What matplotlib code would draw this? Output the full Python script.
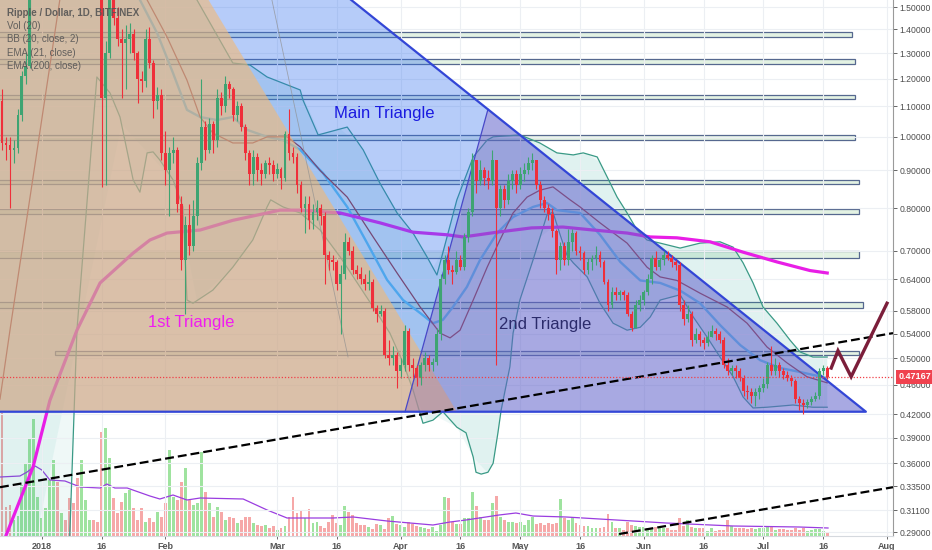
import numpy as np
import matplotlib
matplotlib.use("Agg")
import matplotlib.pyplot as plt
from matplotlib.patches import Polygon, Rectangle
from matplotlib.transforms import blended_transform_factory

plt.rcParams['font.family'] = ['Liberation Sans', 'DejaVu Sans']

# x values are days counted from 2018-01-01; first candle is 2017-12-22
first_day = -10
first_open = 1.12

closes = [
    0.98, 0.975, 0.96, 0.965, 1.07, 1.21, 1.25, 1.75, 2.00, 2.10,
    2.30, 2.60, 3.00, 3.20, 2.90, 3.00, 2.80, 2.30, 2.05, 1.95,
    1.95, 2.05, 2.10, 1.85, 1.75, 1.13, 1.30, 1.58, 1.45, 1.36,
    1.34, 1.36, 1.38, 1.30, 1.20, 1.19, 1.36, 1.26, 1.12, 1.14,
    0.95, 0.90, 0.95, 0.96, 0.81, 0.68, 0.76, 0.71, 0.78, 0.92,
    1.03, 0.96, 1.04, 0.99, 1.13, 1.10, 1.18, 1.16, 1.07, 1.10,
    1.03, 0.95, 0.89, 0.94, 0.90, 0.89, 0.92, 0.915, 0.89, 0.905,
    0.88, 1.01, 0.95, 0.94, 0.86, 0.80, 0.81, 0.77, 0.79, 0.80,
    0.78, 0.69, 0.68, 0.675, 0.63, 0.65, 0.72, 0.70, 0.66, 0.65,
    0.64, 0.63, 0.635, 0.585, 0.575, 0.58, 0.505, 0.50, 0.505, 0.48,
    0.49, 0.545, 0.49, 0.485, 0.47, 0.49, 0.50, 0.49, 0.495, 0.54,
    0.64, 0.68, 0.66, 0.655, 0.68, 0.665, 0.73, 0.79, 0.93, 0.87,
    0.90, 0.88, 0.87, 0.93, 0.80, 0.85, 0.82, 0.87, 0.89, 0.86,
    0.89, 0.90, 0.92, 0.93, 0.86, 0.82, 0.80, 0.785, 0.745, 0.68,
    0.71, 0.68, 0.72, 0.74, 0.70, 0.695, 0.66, 0.675, 0.685, 0.69,
    0.675, 0.635, 0.59, 0.615, 0.61, 0.615, 0.61, 0.575, 0.55, 0.59,
    0.60, 0.615, 0.64, 0.685, 0.665, 0.68, 0.69, 0.685, 0.675, 0.67,
    0.59, 0.565, 0.575, 0.53, 0.54, 0.53, 0.525, 0.535, 0.545, 0.54,
    0.53, 0.49, 0.48, 0.485, 0.48, 0.47, 0.452, 0.45, 0.445, 0.45,
    0.455, 0.462, 0.49, 0.48, 0.49, 0.48, 0.475, 0.47, 0.465, 0.44,
    0.435, 0.432, 0.436, 0.44, 0.445, 0.48, 0.485, 0.47167,
]
highs = [
    1.16, 1.00, 1.00, 0.99, 1.09, 1.23, 1.30, 1.85, 2.20, 2.30,
    2.40, 2.70, 3.20, 3.40, 3.30, 3.20, 3.10, 2.90, 2.40, 2.10,
    2.10, 2.20, 2.20, 2.15, 1.90, 1.80, 1.35, 1.65, 1.70, 1.50,
    1.40, 1.42, 1.43, 1.40, 1.31, 1.23, 1.40, 1.41, 1.27, 1.17,
    1.16, 1.02, 0.97, 1.00, 0.97, 0.83, 0.78, 0.81, 0.82, 0.94,
    1.20, 1.05, 1.06, 1.05, 1.16, 1.15, 1.21, 1.19, 1.17, 1.12,
    1.11, 1.04, 0.96, 0.96, 0.95, 0.92, 0.93, 0.94, 0.93, 0.92,
    0.91, 1.02, 1.09, 0.97, 0.95, 0.87, 0.83, 0.83, 0.81, 0.82,
    0.81, 0.79, 0.70, 0.69, 0.68, 0.67, 0.74, 0.73, 0.71, 0.67,
    0.665, 0.65, 0.66, 0.64, 0.59, 0.59, 0.585, 0.53, 0.52, 0.51,
    0.50, 0.555, 0.55, 0.50, 0.49, 0.495, 0.51, 0.505, 0.50, 0.55,
    0.65, 0.69, 0.71, 0.67, 0.70, 0.69, 0.74, 0.80, 0.95, 0.93,
    0.93, 0.91, 0.90, 0.96, 0.93, 0.86, 0.86, 0.89, 0.90, 0.90,
    0.91, 0.92, 0.94, 0.95, 0.93, 0.87, 0.83, 0.81, 0.80, 0.75,
    0.72, 0.72, 0.75, 0.75, 0.745, 0.71, 0.70, 0.685, 0.69, 0.71,
    0.70, 0.68, 0.64, 0.625, 0.625, 0.62, 0.62, 0.615, 0.58, 0.60,
    0.61, 0.62, 0.65, 0.69, 0.70, 0.685, 0.70, 0.70, 0.69, 0.68,
    0.675, 0.60, 0.59, 0.58, 0.55, 0.545, 0.535, 0.545, 0.555, 0.55,
    0.545, 0.535, 0.50, 0.49, 0.49, 0.485, 0.475, 0.46, 0.455, 0.455,
    0.46, 0.47, 0.495, 0.52, 0.50, 0.495, 0.485, 0.48, 0.475, 0.468,
    0.445, 0.44, 0.44, 0.445, 0.45, 0.485, 0.49, 0.488,
]
lows = [
    0.96, 0.93, 0.80, 0.92, 0.95, 1.05, 1.18, 1.24, 1.70, 1.90,
    2.00, 2.20, 2.50, 2.90, 2.60, 2.70, 2.60, 2.20, 1.90, 1.80,
    1.75, 1.90, 1.90, 1.75, 1.60, 0.855, 0.86, 1.28, 1.42, 1.33,
    1.13, 1.16, 1.30, 1.27, 1.11, 1.15, 1.17, 1.24, 1.06, 1.09,
    0.93, 0.86, 0.78, 0.92, 0.79, 0.66, 0.575, 0.69, 0.70, 0.76,
    0.90, 0.93, 0.95, 0.95, 0.97, 1.07, 1.08, 1.13, 1.05, 1.05,
    1.02, 0.93, 0.86, 0.86, 0.87, 0.86, 0.88, 0.89, 0.87, 0.88,
    0.85, 0.87, 0.93, 0.92, 0.84, 0.79, 0.74, 0.75, 0.75, 0.77,
    0.76, 0.63, 0.66, 0.66, 0.62, 0.54, 0.64, 0.69, 0.65, 0.64,
    0.63, 0.62, 0.62, 0.58, 0.56, 0.57, 0.50, 0.49, 0.49, 0.455,
    0.47, 0.48, 0.48, 0.47, 0.458, 0.46, 0.48, 0.48, 0.48, 0.49,
    0.53, 0.63, 0.65, 0.63, 0.65, 0.66, 0.66, 0.72, 0.78, 0.84,
    0.86, 0.86, 0.85, 0.86, 0.49, 0.78, 0.80, 0.81, 0.85, 0.84,
    0.85, 0.87, 0.89, 0.90, 0.85, 0.80, 0.79, 0.77, 0.73, 0.65,
    0.66, 0.67, 0.67, 0.70, 0.69, 0.68, 0.65, 0.65, 0.66, 0.67,
    0.665, 0.63, 0.58, 0.585, 0.60, 0.60, 0.60, 0.57, 0.545, 0.55,
    0.58, 0.59, 0.61, 0.63, 0.66, 0.66, 0.67, 0.68, 0.665, 0.66,
    0.58, 0.555, 0.56, 0.52, 0.525, 0.52, 0.515, 0.52, 0.535, 0.53,
    0.525, 0.485, 0.475, 0.475, 0.47, 0.465, 0.445, 0.44, 0.435, 0.43,
    0.44, 0.45, 0.455, 0.475, 0.475, 0.472, 0.468, 0.465, 0.458, 0.435,
    0.425, 0.42, 0.428, 0.432, 0.438, 0.44, 0.475, 0.468,
]
volumes = [
    123, 29, 31, 16, 20, 51, 73, 98, 117, 39,
    18, 28, 56, 76, 54, 23, 16, 38, 33, 58,
    76, 36, 16, 16, 14, 104, 108, 78, 38, 23,
    34, 43, 46, 28, 16, 28, 14, 18, 14, 24,
    19, 33, 86, 39, 36, 54, 68, 36, 31, 33,
    84, 44, 33, 19, 29, 24, 16, 19, 18, 13,
    16, 19, 19, 13, 11, 10, 11, 8, 10, 6,
    8, 10, 19, 39, 23, 26, 18, 27, 13, 14,
    10, 8, 14, 21, 13, 11, 30, 24, 21, 13,
    11, 11, 9, 7, 12, 11, 7, 18, 20, 12,
    11, 9, 14, 12, 10, 9, 8, 7, 9, 5,
    11, 39, 38, 14, 12, 12, 18, 18, 44, 30,
    19, 16, 16, 33, 40, 19, 16, 14, 14, 13,
    14, 11, 16, 19, 12, 13, 11, 13, 12, 13,
    37, 18, 16, 19, 13, 11, 10, 10, 8, 8,
    8, 9, 22, 14, 8, 8, 6, 14, 11, 10,
    9, 9, 8, 8, 9, 8, 8, 8, 6, 6,
    18, 10, 16, 9, 8, 8, 8, 5, 8, 5,
    6, 6, 16, 10, 8, 8, 8, 7, 8, 7,
    8, 8, 9, 9, 6, 7, 7, 6, 6, 8,
    6, 8, 5, 6, 7, 7, 5, 3,
]

# Vol (20) moving average
vol_ma_days = [-10.5, -5.5, -3.7, -1.7, 0, 2, 5.8, 9.6, 14.6, 16.3, 18.3, 21.4, 27.1, 29.6,
               32.9, 36.4, 39.7, 50.5, 56.5, 61.5, 73.0, 78.1, 86.6, 98.1, 102.4, 106.4,
               114.7, 118.9, 123.2, 131.5, 148.3, 156.6, 173.4, 189.9, 197.2]
vol_ma = [59, 60, 64, 70, 66, 56, 55, 49, 48, 52, 48, 48, 40, 37,
          41, 36, 38, 37, 26, 18, 18, 19, 15, 11, 14, 16,
          21, 23, 20, 19, 15, 13, 10, 9, 8]

# Bollinger bands (20, close, 2)
bb_up_days = [-12, 20, 33, 38.9, 47.9, 52.2, 56.5, 64.8, 65.5, 69.3, 76.6, 80.6, 84.8, 89.1,
              93.1, 96.6, 99.1, 104.1, 108.2, 111.7, 113.2, 119.9, 124.9, 129.2, 133.3,
              135.8, 139.3, 141.8, 144.3, 146.8, 149.3, 151.8, 155.1, 160.1, 165.1, 170.1,
              173.4, 175.9, 178.4, 180.9, 184.4, 187.7, 190.2, 193.4, 197.0]
bb_up = [2.0, 3.6, 1.75, 1.535, 1.260, 1.252, 1.206, 1.158, 1.122, 1.006, 1.031, 0.960,
         0.865, 0.788, 0.740, 0.687, 0.649, 0.821, 0.939, 0.990, 1.000, 1.006, 0.981,
         0.951, 0.945, 0.951, 0.939, 0.882, 0.828, 0.788, 0.747, 0.724, 0.717, 0.706,
         0.717, 0.720, 0.708, 0.674, 0.633, 0.587, 0.558, 0.529, 0.510, 0.502, 0.502]
bb_low_days = [-12, 6.0, 7.0, 8.8, 13.8, 17.1, 19.6, 22.9, 24.6, 26.4, 27.9, 29.6, 32.9,
               35.4, 36.4, 37.9, 42.9, 47.9, 52.9, 56.5, 57.4, 60.5, 64.8, 69.8, 74.8,
               79.8, 83.1, 87.3, 90.6, 93.1, 95.6, 98.1, 100.6, 104.1, 106.4, 108.2,
               108.9, 110.2, 111.9, 113.2, 114.4, 115.2, 117.4, 118.2, 119.9, 123.2,
               126.7, 128.2, 130.0, 131.7, 133.3, 136.8, 140.0, 143.3, 146.8, 150.1,
               152.6, 155.1, 160.1, 163.4, 166.9, 170.1, 173.4, 175.9, 178.4, 181.9,
               188.4, 193.4, 197.0]
bb_low = [0.15, 0.20, 0.287, 0.546, 1.206, 1.147, 1.064, 0.874, 0.841, 0.951, 0.954, 0.930,
          0.874, 0.803, 0.600, 0.594, 0.619, 0.665, 0.724, 0.803, 0.821, 0.803, 0.788,
          0.747, 0.687, 0.625, 0.587, 0.541, 0.493, 0.453, 0.408, 0.412, 0.423, 0.403,
          0.396, 0.367, 0.350, 0.348, 0.350, 0.360, 0.396, 0.425, 0.487, 0.541, 0.600,
          0.680, 0.783, 0.790, 0.736, 0.691, 0.674, 0.645, 0.594, 0.558, 0.546, 0.551,
          0.569, 0.600, 0.610, 0.569, 0.534, 0.502, 0.472, 0.443, 0.428, 0.429, 0.432,
          0.429, 0.429]
bb_mid_days = [15, 24.6, 28.9, 32.9, 36.4, 39.7, 43.9, 47.9, 51.5, 56.5, 60.5, 64.8, 70.5,
               76.6, 81.6, 86.6, 90.6, 94.9, 98.1, 100.6, 103.1, 106.6, 109.9, 114.2,
               118.2, 123.2, 126.7, 129.2, 135.0, 140.0, 145.1, 150.1, 155.1, 160.1,
               165.1, 170.1, 175.2, 180.2, 185.2, 190.2, 197.0]
bb_mid = [2.4, 1.535, 1.384, 1.221, 1.088, 1.064, 1.054, 1.064, 1.022, 1.000, 0.990,
          0.960, 0.893, 0.803, 0.717, 0.639, 0.600, 0.576, 0.558, 0.564, 0.587, 0.625,
          0.680, 0.740, 0.778, 0.803, 0.813, 0.795, 0.788, 0.736, 0.676, 0.638, 0.633,
          0.618, 0.594, 0.555, 0.521, 0.497, 0.485, 0.479, 0.470]

# EMA (21, close)
ema21_days = [-10.5, -8.0, 4.5, 15, 26.4, 31.4, 36.4, 39.7, 42.9, 47.9, 52.9, 56.5, 61.5,
              64.8, 69.8, 76.6, 83.1, 89.1, 94.9, 99.9, 102.4, 104.9, 108.2, 111.7, 114.9,
              118.2, 121.7, 124.9, 128.2, 132.5, 135.0, 140.0, 146.8, 151.8, 155.1, 159.3,
              165.1, 171.9, 176.9, 181.9, 186.9, 191.9, 197.0]
ema21 = [0.44, 0.546, 1.535, 2.2, 1.535, 1.367, 1.194, 1.064, 1.012, 0.981, 0.981, 1.000,
         1.000, 0.969, 0.900, 0.828, 0.731, 0.653, 0.587, 0.541, 0.533, 0.546, 0.600,
         0.665, 0.724, 0.788, 0.828, 0.846, 0.855, 0.821, 0.803, 0.764, 0.717, 0.665,
         0.645, 0.638, 0.613, 0.587, 0.558, 0.518, 0.493, 0.472, 0.463]

# EMA (200, close)
ema200_days = [-12, -8.8, -2.2, 2.0, 8.8, 14.6, 22.9, 27.1, 31.4, 39.7, 47.9, 56.5, 59.7,
               64.8, 74.8, 84.8, 93.1, 101.6, 105.7, 114.2, 122.8, 130.7, 138.3, 146.8,
               152.6, 159.3, 167.6, 175.9, 184.4, 192.7, 197.0]
ema200 = [0.26, 0.289, 0.356, 0.438, 0.546, 0.633, 0.695, 0.724, 0.740, 0.747, 0.770,
          0.788, 0.795, 0.795, 0.788, 0.764, 0.742, 0.736, 0.731, 0.742, 0.752, 0.754,
          0.747, 0.740, 0.731, 0.729, 0.720, 0.697, 0.676, 0.658, 0.653]

# horizontal zones drawn on the chart
zone_bottom = [1.367, 1.258, 1.124, 0.989, 0.862, 0.785, 0.685, 0.586, 0.505]
zone_top = [1.389, 1.277, 1.140, 1.005, 0.873, 0.797, 0.699, 0.597, 0.511]
zone_start = [-12, -12, -12, -12, -12, -12, -12, -12, 3.3]
zone_end = [203.2, 204.0, 204.0, 204.0, 205.0, 205.0, 205.0, 205.9, 205.0]

# triangles (day, price)
main_tri_days = [-60, 4.0, 206.7]
main_tri_prices = [0.423, 3.2, 0.423]
first_tri_days = [-60, 6.3, 104.1]
first_tri_prices = [0.423, 3.2, 0.423]
second_tri_days = [91.1, 111.9, 206.7]
second_tri_prices = [0.423, 1.09, 0.423]
guide_days = [57.7, 76.8]
guide_prices = [1.535, 0.502]

trend_up_days = [-10.5, 213.5]
trend_up = [0.334, 0.541]
trend_low_days = [144.8, 213.5]
trend_low = [0.2885, 0.334]
proj_days = [198.0, 199.7, 203.0, 212.0]
proj_prices = [0.485, 0.512, 0.472, 0.594]
last_price = 0.47167

price_ticks = [1.5, 1.4, 1.3, 1.2, 1.1, 1.0, 0.9, 0.8, 0.7, 0.64, 0.58, 0.54, 0.5,
               0.46, 0.42, 0.39, 0.36, 0.335, 0.311, 0.29]
date_ticks = [0, 15, 31, 59, 74, 90, 105, 120, 135, 151, 166, 181, 196, 212]
date_labels = ['2018', '16', 'Feb', 'Mar', '16', 'Apr', '16', 'May', '16', 'Jun',
               '16', 'Jul', '16', 'Aug']

assert len(closes) == len(highs) == len(lows) == len(volumes)

days = np.arange(first_day, first_day + len(closes))
c = np.array(closes)
o = np.concatenate([[first_open], c[:-1]])  # 24h market: open = previous close
up = c >= o

fig = plt.figure(figsize=(9.32, 5.5), dpi=100)
ax = fig.add_axes([0, 14 / 550, 893 / 932, 536 / 550])
ax_v = ax.twinx()
ax.set_zorder(ax_v.get_zorder() + 1)
ax.patch.set_visible(False)

# volume pane
ax_v.bar(days, volumes, width=0.72, color=np.where(up, '#9fe39f', '#f6a8a8'), zorder=1)
ax_v.plot(vol_ma_days, vol_ma, color='#9a3de0', lw=0.9, zorder=2)
ax_v.set_ylim(0, 536)
ax_v.set_yticks([])
for s in ax_v.spines.values():
    s.set_visible(False)

ax.set_yscale('log')
ax.set_xlim(-10.5, 213.5)
ax.set_ylim(0.2867, 1.5346)

# zones
for b, t, s, e in zip(zone_bottom, zone_top, zone_start, zone_end):
    ax.add_patch(Rectangle((s, b), e - s, t - b, facecolor='#e3f2e3', edgecolor='#56688f',
                           lw=0.9, zorder=1))

# indicators
ax.fill_between(bb_up_days, np.interp(bb_up_days, bb_low_days, bb_low), bb_up,
                color='#26a69a', alpha=0.07, lw=0, zorder=1.5)
ax.fill_between(bb_low_days, bb_low, np.interp(bb_low_days, bb_up_days, bb_up),
                color='#26a69a', alpha=0.07, lw=0, zorder=1.5)
ax.plot(bb_up_days, bb_up, color='#3a9a86', lw=0.9, zorder=2)
ax.plot(bb_low_days, bb_low, color='#3a9a86', lw=0.9, zorder=2)
ax.plot(bb_mid_days, bb_mid, color='#5fc4ec', lw=1.7, zorder=2)
ax.plot(ema21_days, ema21, color='#9c3535', lw=0.9, zorder=2)
ax.plot(ema200_days, ema200, color='#e81ee6', lw=2.3, zorder=2)

# triangles
ax.add_patch(Polygon(list(zip(main_tri_days, main_tri_prices)), closed=True,
                     facecolor='#2f6ef0', alpha=0.35, lw=0, zorder=3))
ax.add_patch(Polygon(list(zip(first_tri_days, first_tri_prices)), closed=True,
                     facecolor='#f5b870', alpha=0.58, lw=0, zorder=3.1))
ax.add_patch(Polygon(list(zip(second_tri_days, second_tri_prices)), closed=True,
                     facecolor='#8a5cb0', alpha=0.31, edgecolor='none', zorder=3.2))
ax.plot(second_tri_days[:2], second_tri_prices[:2], color='#4848c8', lw=0.9, zorder=3.3)
ax.plot(main_tri_days[1:] + [main_tri_days[0]], main_tri_prices[1:] + [main_tri_prices[0]],
        color='#3346d6', lw=1.6, zorder=3.4)
ax.plot(guide_days, guide_prices, color='#8f8f8f', lw=0.6, alpha=0.7, zorder=3.3)

# candles
col = np.where(up, '#3ea472', '#ef2f3a')
ax.vlines(days, lows, highs, colors=col, lw=0.8, zorder=5)
ax.bar(days, np.maximum(np.abs(c - o), 0.002), bottom=np.minimum(o, c), width=0.72,
       color=col, lw=0, zorder=5.1)

# drawings
ax.plot(trend_up_days, trend_up, color='black', lw=1.6, ls=(0, (4, 1.8)), zorder=6)
ax.plot(trend_low_days, trend_low, color='black', lw=1.6, ls=(0, (4, 1.8)), zorder=6)
ax.axhline(last_price, color='#f04048', lw=0.9, ls=(0, (1, 1.5)), zorder=6)
ax.plot(proj_days, proj_prices, color='#7b1e3a', lw=2.4, solid_joinstyle='miter', zorder=6)

ax.text(85.8, 1.077, 'Main Triangle', color='#1a1ae0', fontsize=12, ha='center',
        va='center', zorder=7)
ax.text(126.2, 0.555, '2nd Triangle', color='#2b2b6b', fontsize=12, ha='center',
        va='center', zorder=7)
ax.text(37.5, 0.560, '1st Triangle', color='#f01cf0', fontsize=12, ha='center',
        va='center', zorder=7)

legend_lines = ['Ripple / Dollar, 1D, BITFINEX', 'Vol (20)', 'BB (20, close, 2)',
                'EMA (21, close)', 'EMA (200, close)']
for i, line in enumerate(legend_lines):
    ax.text(0.008, 1 - (13 + 13.2 * i) / 536, line, transform=ax.transAxes, fontsize=7,
            color='#555555', alpha=0.9, va='center',
            fontweight='bold' if i == 0 else 'normal', zorder=7)

# axes styling
ax.yaxis.tick_right()
ax.set_yticks(price_ticks)
ax.set_yticklabels([f'{v:.5f}' for v in price_ticks])
ax.minorticks_off()
ax.set_xticks(date_ticks)
ax.set_xticklabels(date_labels, fontweight='bold')
ax.tick_params(axis='y', labelsize=6.2, colors='#4d4d4d', length=3, width=0.6, pad=1.5)
ax.tick_params(axis='x', labelsize=6.5, colors='#555555', length=2, width=0.6, pad=2)
ax.grid(True, color='#eceff3', lw=0.8, zorder=0)
for side in ['top', 'left']:
    ax.spines[side].set_visible(False)
ax.spines['right'].set_color('#9a9a9a')
ax.spines['bottom'].set_color('#d5d9de')

trans = blended_transform_factory(ax.transAxes, ax.transData)
ax.text(1.006, last_price, f'{last_price:.5f}', transform=trans, ha='left', va='center',
        fontsize=6.5, color='white', fontweight='bold', clip_on=False, zorder=10,
        bbox=dict(boxstyle='square,pad=0.28', fc='#f0424f', ec='none'))

fig.savefig('out.png', dpi=100)
